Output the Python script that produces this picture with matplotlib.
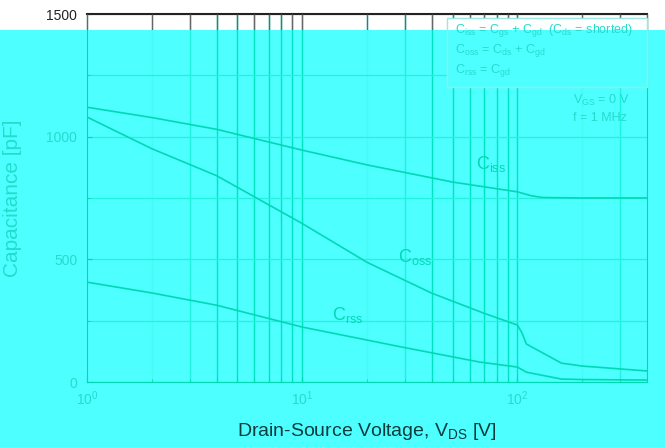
import matplotlib
matplotlib.use("Agg")
import matplotlib.pyplot as plt
from matplotlib.patches import Rectangle

# ========== data ==========
V_ISS = [1, 2, 4, 10, 20, 50, 100, 115, 130, 200, 400]
C_ISS = [1120, 1078, 1030, 945, 885, 815, 775, 760, 752, 750, 750]

V_OSS = [1, 2, 4, 10, 20, 40, 70, 100, 105, 110, 160, 200, 400]
C_OSS = [1080, 951, 841, 646, 488, 362, 280, 232, 200, 155, 77, 65, 45]

V_RSS = [1, 2, 4, 10, 30, 67, 100, 110, 160, 200, 400]
C_RSS = [407, 363, 313, 224, 140, 81, 61, 40, 12, 10, 8]

Y_TICKS = [0, 500, 1000, 1500]
CURVE_NAMES = [r"C$_{\rm iss}$", r"C$_{\rm oss}$", r"C$_{\rm rss}$"]
CURVE_LABEL_AT = [(64, 889), (28, 510), (13.8, 273)]
LEGEND_LINES = [r"C$_{\rm iss}$ = C$_{\rm gs}$ + C$_{\rm gd}$  (C$_{\rm ds}$ = shorted)",
                r"C$_{\rm oss}$ = C$_{\rm ds}$ + C$_{\rm gd}$",
                r"C$_{\rm rss}$ = C$_{\rm gd}$"]
COND_LINES = [r"V$_{\rm GS}$ = 0 V", "f = 1 MHz"]

# ========== style ==========
BG = "#4dffff"
LINE = "#00d8b4"
GRID_H = "#22f2dc"
TXT = "#22dccc"
# grid colour by mantissa (the 2x lines barely show, 3x lines are faint)
GRID_BY_K = {2: "#44fcf4", 3: "#1ef2dc"}
GRID_DEFAULT = "#00e2c0"

plt.rcParams["font.family"] = ["Liberation Sans", "DejaVu Sans"]
plt.rcParams["mathtext.fontset"] = "custom"
plt.rcParams["mathtext.rm"] = "Liberation Sans"

W, H = 665, 447
fig = plt.figure(figsize=(W / 100, H / 100), dpi=100, facecolor=BG)

def fig_rect(x0, y0, x1, y1, **kw):
    """rectangle given in picture pixels (top-left origin)"""
    r = Rectangle((x0 / W, 1 - y1 / H), (x1 - x0) / W, (y1 - y0) / H,
                  transform=fig.transFigure, **kw)
    fig.patches.append(r)
    return r

# white strip at the top of the picture
band = fig_rect(0, 0, W, 30, facecolor="white", edgecolor="none", zorder=-5)

ax = fig.add_axes([87 / W, 1 - 382 / H, (647 - 87) / W, (382 - 14) / H])
ax.set_facecolor("none")
ax.set_xscale("log")
ax.set_xlim(1, 400)
ax.set_ylim(0, 1500)

for v, c in [(V_ISS, C_ISS), (V_OSS, C_OSS), (V_RSS, C_RSS)]:
    ax.plot(v, c, color=LINE, lw=1.2, zorder=3)

# grid
xs = [k * 10 ** d for d in range(0, 3) for k in range(1, 10) if k * 10 ** d <= 400]
for d in range(0, 3):
    for k in range(1, 10):
        x = k * 10 ** d
        if 1 < x < 400:
            ax.axvline(x, color=GRID_BY_K.get(k, GRID_DEFAULT), lw=1.0, zorder=1)
ax.set_yticks(Y_TICKS)
ax.set_yticks([250, 750, 1250], minor=True)
ax.grid(which="both", axis="y", color=GRID_H, lw=0.9)

# the part of the grid that sits in the white strip is grey
vl = ax.vlines(xs, 0, 1500, colors="#666666", lw=1.0, zorder=4)
vl.set_clip_path(band)

for s in ax.spines.values():
    s.set_color(LINE)
ax.spines["top"].set_color("#222222")
ax.spines["top"].set_linewidth(1.5)

ax.tick_params(which="both", direction="in", colors=LINE, labelcolor=TXT,
               labelsize=10)
ax.tick_params(axis="x", pad=5)
ax.tick_params(axis="y", pad=7)
ax.get_yticklabels()[-1].set_color("#222222")
ax.set_xticklabels([], minor=True)

ax.set_ylabel("Capacitance [pF]", color=TXT, fontsize=15)
ax.yaxis.set_label_coords(-(87 - 22) / (647 - 87), 0.5)
ax.set_xlabel(r"Drain-Source Voltage, V$_{\rm DS}$ [V]", color="#0c3c3c",
              fontsize=14)
ax.xaxis.set_label_coords((367 - 87) / (647 - 87), -(432 - 382) / (382 - 14))
ax.xaxis.label.set_va("center")

# curve labels
for name, (x, y) in zip(CURVE_NAMES, CURVE_LABEL_AT):
    ax.text(x, y, name, color=LINE, fontsize=13, va="center")

# legend box (hides the grid behind it)
fig_rect(447, 18, 647, 30, facecolor="white", edgecolor="none", zorder=5)
fig_rect(447, 30, 647, 87, facecolor=BG, edgecolor="none", zorder=5)
fig_rect(447, 18, 647, 87, facecolor="none", edgecolor="#9ae8e0", lw=1.0, zorder=5)
for i, t in enumerate(LEGEND_LINES):
    fig.text(455 / W, 1 - (31 + 20 * i) / H, t, color=TXT, fontsize=9,
             va="center", zorder=6)
for i, t in enumerate(COND_LINES):
    fig.text(573 / W, 1 - (100 + 18 * i) / H, t, color=TXT, fontsize=9,
             va="center", zorder=6)

fig.savefig("out.png", dpi=100, facecolor=BG)
